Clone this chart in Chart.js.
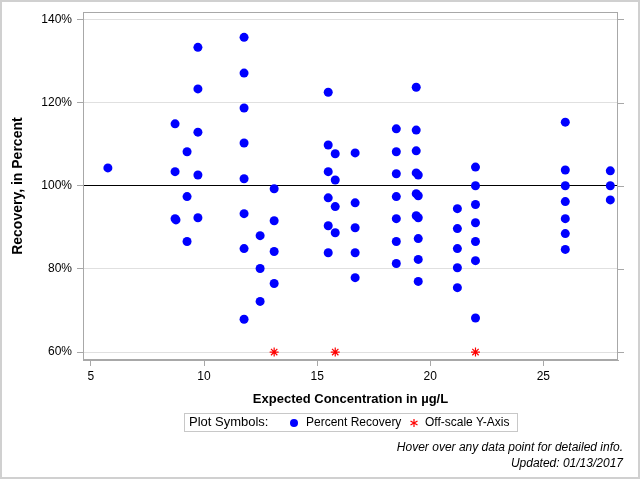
<!DOCTYPE html>
<html>
<head>
<meta charset="utf-8">
<script src="https://cdn.jsdelivr.net/npm/chart.js@4/dist/chart.umd.min.js"></script>
<style>
  body { margin: 0; background: #fff; font-family: "Liberation Sans", Arial, sans-serif; }
  #wrap { position: relative; width: 640px; height: 480px; }
  #frame { position: absolute; left: 0; top: 0; width: 640px; height: 479px; box-sizing: border-box; border: 2px solid #d0d0d0; pointer-events: none; }
  canvas { position: absolute; left: 0; top: 0; }
  .lg { position: absolute; font-size: 12px; color: #000; white-space: nowrap; line-height: 14px; }
  #legendBox { position: absolute; left: 184px; top: 413px; width: 334px; height: 19px; box-sizing: border-box; border: 1px solid #c8c8c8; }
  .foot { position: absolute; right: 17px; font-size: 12px; font-style: italic; line-height: 14px; color: #000; }
</style>
</head>
<body>
<div id="wrap">
  <canvas id="recChart" width="640" height="480"></canvas>
  <div id="legendBox"></div>
  <span class="lg" style="left:189px;top:415px;font-size:13px;">Plot Symbols:</span>
  <svg style="position:absolute;left:289px;top:418px" width="10" height="10"><circle cx="5" cy="5" r="4" fill="#0000ff"/></svg>
  <span class="lg" style="left:306px;top:415px;">Percent Recovery</span>
  <svg style="position:absolute;left:409px;top:418px" width="10" height="10">
    <g stroke="#ff0000" stroke-width="1.2"><line x1="5" y1="1" x2="5" y2="9"/><line x1="1.5" y1="3" x2="8.5" y2="7"/><line x1="1.5" y1="7" x2="8.5" y2="3"/></g>
  </svg>
  <span class="lg" style="left:425px;top:415px;">Off-scale Y-Axis</span>
  <div class="foot" style="top:440px;">Hover over any data point for detailed info.</div>
  <div class="foot" style="top:456px;">Updated: 01/13/2017</div>
  <div id="frame"></div>
</div>
<script>
  // concentraciones esperadas (µg/L) y recuperación (%), una entrada por punto
  const concentration = [
    5.75,
    8.72, 8.72, 8.72, 8.76,
    9.25, 9.25, 9.25,
    9.73, 9.73, 9.73, 9.73, 9.73,
    11.77, 11.77, 11.77, 11.77, 11.77, 11.77, 11.77, 11.77,
    12.48, 12.48, 12.48,
    13.1, 13.1, 13.1, 13.1,
    15.49, 15.49, 15.49, 15.49, 15.49, 15.49,
    15.8, 15.8, 15.8, 15.8,
    16.68, 16.68, 16.68, 16.68, 16.68,
    18.5, 18.5, 18.5, 18.5, 18.5, 18.5, 18.5,
    19.38, 19.38, 19.38, 19.38, 19.38, 19.38,
    19.47, 19.47, 19.47, 19.47, 19.47, 19.47,
    21.2, 21.2, 21.2, 21.2, 21.2,
    22.0, 22.0, 22.0, 22.0, 22.0, 22.0, 22.0,
    25.97, 25.97, 25.97, 25.97, 25.97, 25.97, 25.97,
    27.96, 27.96, 27.96
  ];
  const recovery = [
    104.3,
    114.9, 103.4, 92.1, 91.8,
    108.2, 97.4, 86.6,
    133.3, 123.3, 112.9, 102.6, 92.3,
    135.7, 127.1, 118.7, 110.3, 101.7, 93.3, 84.9, 67.9,
    88.0, 80.1, 72.2,
    99.3, 91.6, 84.2, 76.5,
    122.5, 109.8, 103.4, 97.1, 90.4, 83.9,
    107.7, 101.4, 95.0, 88.7,
    107.9, 95.9, 89.9, 83.9, 77.9,
    113.7, 108.2, 102.9, 97.4, 92.1, 86.6, 81.3,
    123.7, 113.4, 108.4, 103.1, 98.1, 92.8,
    102.6, 97.6, 92.3, 87.3, 82.3, 77.0,
    94.5, 89.7, 84.9, 80.3, 75.5,
    104.5, 100.0, 95.5, 91.1, 86.6, 82.0, 68.2,
    115.3, 103.8, 100.0, 96.2, 92.1, 88.5, 84.7,
    103.6, 100.0, 96.6
  ];
  // puntos fuera de escala (se dibujan en el borde inferior del eje)
  const offScaleConc = [13.1, 15.8, 22.0];
  const offScaleY = [60, 60, 60];

  const xTicks = [5, 10, 15, 20, 25];
  const yTicks = [60, 80, 100, 120, 140];
  const xRange = [4.65, 28.3];
  const yRange = [58.1, 141.75];

  const frameGris = '#a8a8a8';

  // marco del área de trazado y marcas del eje derecho
  const marcoPlugin = {
    id: 'marco',
    afterDraw(chart) {
      const { ctx, chartArea: a, scales } = chart;
      ctx.save();
      ctx.strokeStyle = frameGris;
      ctx.lineWidth = 1;
      ctx.strokeRect(Math.round(a.left) + 0.5, Math.round(a.top) + 0.5,
        Math.round(a.right - a.left) - 1, Math.round(a.bottom - a.top) - 1);
      scales.y.ticks.forEach(t => {
        const py = Math.round(scales.y.getPixelForValue(t.value)) + 0.5;
        ctx.beginPath();
        ctx.moveTo(a.right, py);
        ctx.lineTo(a.right + 6, py);
        ctx.stroke();
      });
      ctx.restore();
    }
  };

  Chart.defaults.font.family = '"Liberation Sans", Arial, sans-serif';
  Chart.defaults.color = '#000';

  const puntos = concentration.map((c, i) => ({ x: c, y: recovery[i] }));
  const fuera = offScaleConc.map((c, i) => ({ x: c, y: offScaleY[i] }));

  new Chart(document.getElementById('recChart'), {
    type: 'scatter',
    data: {
      datasets: [
        {
          label: 'Percent Recovery',
          data: puntos,
          pointStyle: 'circle',
          pointRadius: 4.5,
          pointBackgroundColor: '#0000ff',
          pointBorderColor: '#0000ff',
          pointBorderWidth: 0
        },
        {
          label: 'Off-scale Y-Axis',
          data: fuera,
          pointStyle: 'star',
          pointRadius: 4.5,
          pointBackgroundColor: '#ff0000',
          pointBorderColor: '#ff0000',
          pointBorderWidth: 1.2
        }
      ]
    },
    options: {
      responsive: false,
      animation: false,
      layout: { padding: { top: 11, right: 22, bottom: 68, left: 0 } },
      plugins: { legend: { display: false }, tooltip: { enabled: false } },
      scales: {
        x: {
          type: 'linear',
          min: xRange[0],
          max: xRange[1],
          afterBuildTicks: s => { s.ticks = xTicks.map(v => ({ value: v })); },
          afterFit: s => { s.height = 52; },
          ticks: { font: { size: 12 }, padding: 3, maxRotation: 0 },
          grid: { drawOnChartArea: false, color: frameGris, tickLength: 6 },
          border: { color: frameGris },
          title: {
            display: true,
            text: 'Expected Concentration in µg/L',
            font: { size: 13, weight: 'bold' },
            padding: { top: 4, bottom: 5 }
          }
        },
        y: {
          type: 'linear',
          min: yRange[0],
          max: yRange[1],
          afterBuildTicks: s => { s.ticks = yTicks.map(v => ({ value: v })); },
          afterFit: s => { s.width = 83; },
          ticks: { font: { size: 12 }, padding: 5, callback: v => v + '%' },
          grid: {
            color: ctx => (ctx.tick && ctx.tick.value === 100) ? '#000' : '#e0e0e0',
            tickColor: frameGris,
            tickLength: 6
          },
          border: { color: frameGris },
          title: {
            display: true,
            text: 'Recovery, in Percent',
            font: { size: 14, weight: 'bold' },
            padding: { top: 10, bottom: 0 }
          }
        }
      }
    },
    plugins: [marcoPlugin]
  });
</script>
</body>
</html>
